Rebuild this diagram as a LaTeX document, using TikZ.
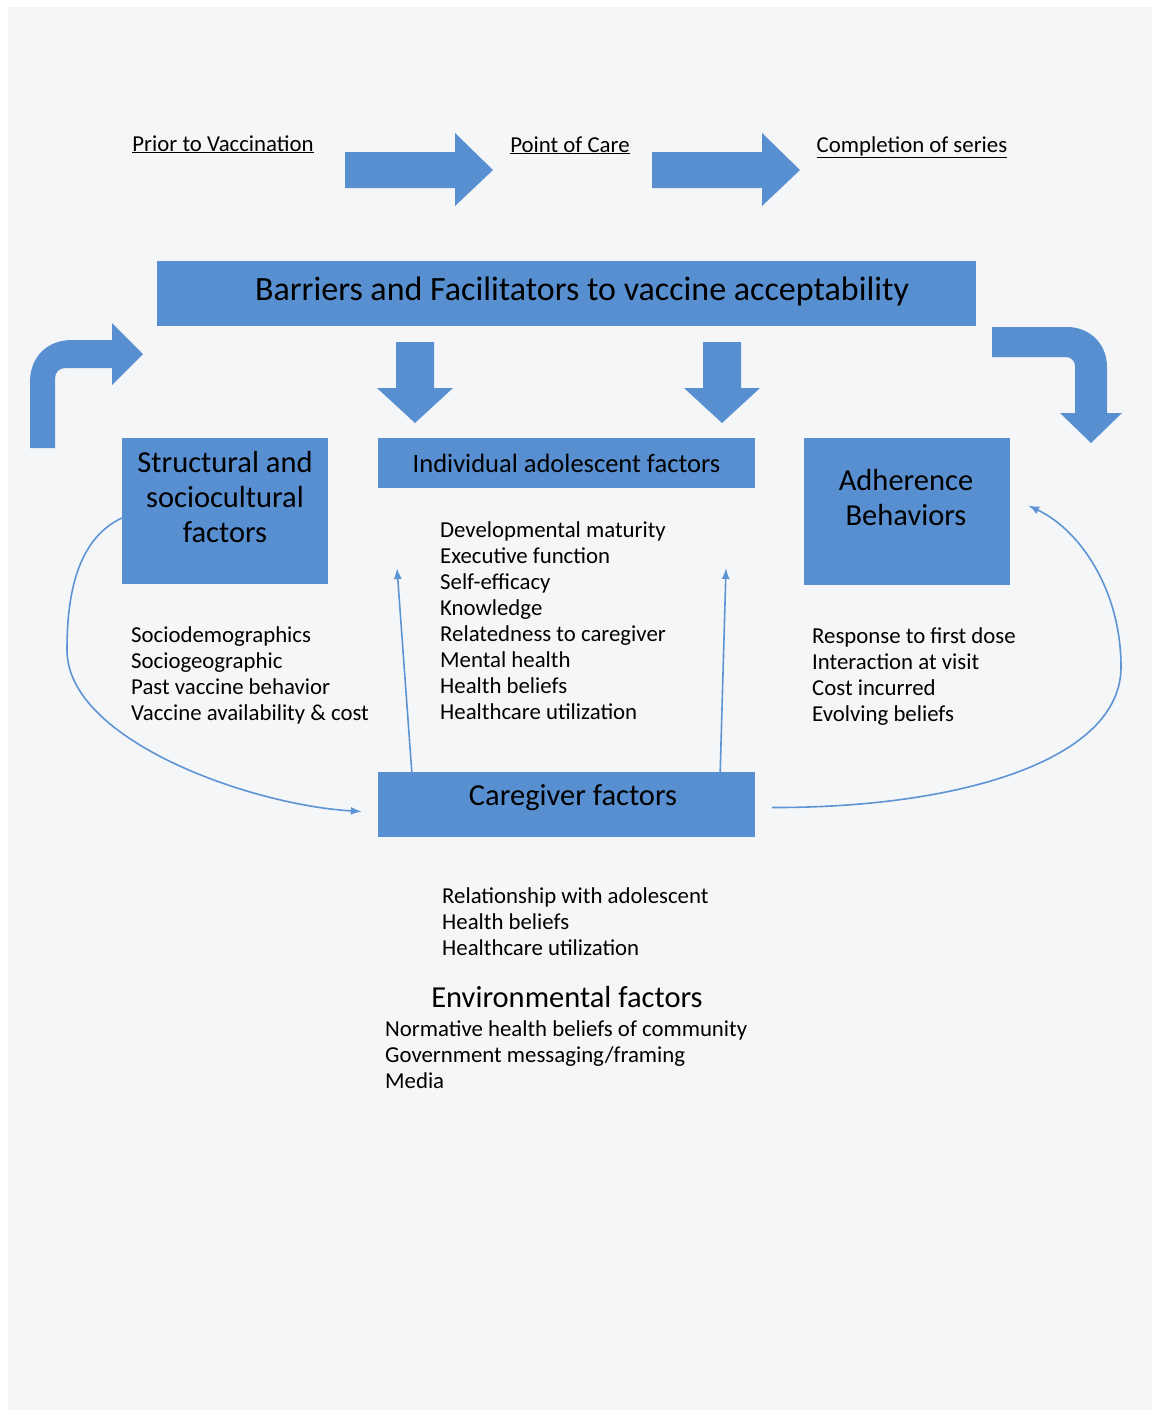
\documentclass[tikz,border=0pt]{standalone}
\usepackage{fontspec}
\setmainfont{Carlito}
\usetikzlibrary{arrows.meta}

\definecolor{boxblue}{RGB}{88,143,208}
\definecolor{lineblue}{RGB}{95,148,212}
\definecolor{paper}{RGB}{244,246,248}

\tikzset{
  box/.style={fill=boxblue,draw=none,inner sep=0pt},
  boxtext/.style={align=center,inner sep=0pt},
  conn/.style={draw=lineblue,line width=1.6pt,-{Latex[length=11pt,width=8pt]}},
  itemlist/.style={anchor=north west,align=left,inner sep=0pt,font=\fontsize{22.8}{26}\selectfont},
  stage/.style={anchor=base,inner sep=0pt,font=\fontsize{22.8}{26}\selectfont},
}

\begin{document}
\begin{tikzpicture}[x=1pt,y=-1pt]
  % Page
  \fill[white] (0,0) rectangle (1155,1414);
  \fill[paper] (8,7) rectangle (1152,1410);
  \useasboundingbox (0,0) rectangle (1155,1414);

  % Stages
  \node[stage] (prior) at (223,151) {\underline{Prior to Vaccination}};
  \node[stage] (care) at (570,152) {\underline{Point of Care}};
  \node[stage] (series) at (912,152) {\underline{Completion of series}};
  \foreach \x in {345,652}
    \fill[boxblue] (\x,152) -- ++(110,0) -- ++(0,-19) -- ++(38,37) -- ++(-38,36)
      -- ++(0,-18) -- ++(-110,0) -- cycle;

  % Barriers and facilitators
  \node[box,minimum width=819pt,minimum height=65pt] (barriers) at (566.5,293.5) {};
  \node[boxtext,font=\fontsize{34}{40}\selectfont] (barrierstext) at (582,291)
    {Barriers and Facilitators to vaccine acceptability};
  \foreach \x in {396,703}
    \fill[boxblue] (\x,342) -- ++(38,0) -- ++(0,46) -- ++(19,0) -- ++(-38,35)
      -- ++(-38,-35) -- ++(19,0) -- cycle;

  % Bent arrows
  \fill[boxblue] (30,448) -- (30,382) .. controls (30,357) and (47,340) .. (72,340)
    -- (112,340) -- (112,323) -- (143,354) -- (112,385) -- (112,368) -- (66,368)
    .. controls (59,368) and (55,372) .. (55,379) -- (55,448) -- cycle;
  \fill[boxblue] (992,327) -- (1067,327) .. controls (1090,327) and (1107,344) .. (1107,367)
    -- (1107,413) -- (1122,413) -- (1091,443) -- (1060,413) -- (1075,413) -- (1075,366)
    .. controls (1075,361) and (1071,357) .. (1066,357) -- (992,357) -- cycle;

  % Structural and sociocultural
  \node[box,minimum width=206pt,minimum height=146pt] (structural) at (225,511) {};
  \node[boxtext,font=\fontsize{30.5}{35}\selectfont] (structuraltext) at (225,497)
    {Structural and\\sociocultural\\factors};
  \node[itemlist] (structurallist) at (131,626.5)
    {Sociodemographics\\Sociogeographic\\Past vaccine behavior\\Vaccine availability \& cost};

  % Individual adolescent
  \node[box,minimum width=377pt,minimum height=50pt,font=\fontsize{26.5}{30}\selectfont]
    (individual) at (566.5,463) {Individual adolescent factors};
  \node[itemlist] (individuallist) at (440,521.5)
    {Developmental maturity\\Executive function\\Self-efficacy\\Knowledge\\Relatedness to caregiver\\
     Mental health\\Health beliefs\\Healthcare utilization};

  % Adherence
  \node[box,minimum width=206pt,minimum height=147pt] (adherence) at (907,511.5) {};
  \node[boxtext,font=\fontsize{30.5}{35}\selectfont] (adherencetext) at (906,498)
    {Adherence\\Behaviors};
  \node[itemlist] (adherencelist) at (812,627.5)
    {Response to first dose\\Interaction at visit\\Cost incurred\\Evolving beliefs};

  % Caregiver
  \node[box,minimum width=377pt,minimum height=65pt] (caregiver) at (566.5,804.5) {};
  \node[boxtext,font=\fontsize{30.5}{35}\selectfont] (caregivertext) at (573,798)
    {Caregiver factors};
  \node[itemlist] (caregiverlist) at (442,887.5)
    {Relationship with adolescent\\Health beliefs\\Healthcare utilization};

  % Environmental
  \node[inner sep=0pt,font=\fontsize{30.5}{35}\selectfont] (environment) at (567,997)
    {Environmental factors};
  \node[itemlist] (environmentlist) at (385,1020.5)
    {Normative health beliefs of community\\Government messaging/framing\\Media};

  % Connectors
  \coordinate (tipA) at (397,568);
  \coordinate (tipB) at (726,568);
  \coordinate (cgin) at ([xshift=-16pt,yshift=-7pt]caregiver.west);
  \coordinate (adhin) at ([xshift=18pt,yshift=6pt]adherence.east);
  \draw[conn] ([xshift=34pt]caregiver.north west) -- (tipA);
  \draw[conn] ([xshift=-35pt]caregiver.north east) -- (tipB);
  \draw[conn] ([yshift=-7pt]structural.west) .. controls (75,540) and (67,600) .. (67,650)
    .. controls (67,740) and (250,805) .. (cgin);
  \draw[conn] ([xshift=17pt,yshift=-3pt]caregiver.east) .. controls (960,808) and (1121,760) .. (1121,667)
    .. controls (1121,590) and (1080,530) .. (adhin);
\end{tikzpicture}
\end{document}
